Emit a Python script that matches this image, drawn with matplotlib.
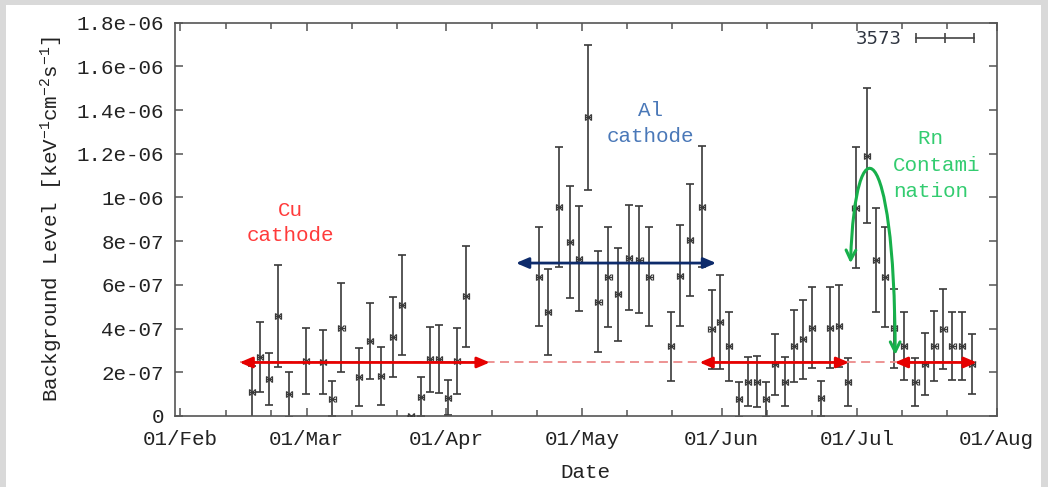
import datetime as dt
import numpy as np
import matplotlib
matplotlib.use('Agg')
import matplotlib.pyplot as plt
import matplotlib.dates as mdates
import matplotlib.ticker as mticker
from matplotlib.lines import Line2D
from matplotlib.patches import FancyArrowPatch, Rectangle
from matplotlib.path import Path
from matplotlib.legend_handler import HandlerLine2D

plt.rcParams['font.family'] = ['Liberation Mono', 'DejaVu Sans Mono']
plt.rcParams['mathtext.fontset'] = 'custom'
plt.rcParams['mathtext.rm'] = 'Liberation Mono'
plt.rcParams['mathtext.default'] = 'regular'

start = dt.datetime(2013, 2, 1)

# run day (days after 01/Feb), background level and its error, in 1e-7 keV-1 cm-2 s-1
day = [15.8, 17.6, 19.6, 21.7, 24.1, 27.8, 31.6, 33.7, 35.7, 39.6, 42.0,
       44.5, 47.1, 49.2, 51.1, 53.3, 55.3, 57.3, 59.3, 61.4, 63.3,
       79.5, 81.5, 83.9, 86.4, 88.4, 90.4, 92.7, 94.9, 97.0, 99.5,
       101.8, 104.0, 108.8, 110.8, 113.0, 115.7, 117.8, 119.7, 121.7,
       123.9, 125.8, 127.8, 129.9, 131.9, 134.0, 136.0, 138.0, 140.0,
       142.0, 144.0, 146.0, 148.1,
       149.7, 152.2, 154.2, 156.2, 158.2, 160.4, 163.0, 165.1, 167.2,
       169.2, 171.2, 173.3, 175.5]
level = [1.11, 2.72, 1.68, 4.58, 0.99, 2.52, 2.47, 0.79, 4.05, 1.80, 3.44,
         1.83, 3.62, 5.07, 0.0, 0.89, 2.60, 2.62, 0.84, 2.52, 5.47,
         6.37, 4.76, 9.57, 7.98, 7.19, 13.67, 5.24, 6.37, 5.57, 7.25,
         7.16, 6.38, 3.19, 6.41, 8.06, 9.57, 3.97, 4.29, 3.19,
         0.76, 1.57, 1.57, 0.76, 2.37, 1.57, 3.21, 3.51, 4.05,
         0.81, 4.05, 4.12, 1.56,
         9.54, 11.91, 7.16, 6.37, 4.02, 3.21, 1.57, 2.40, 3.21,
         3.97, 3.21, 3.21, 2.37]
err = [1.18, 1.60, 1.19, 2.34, 1.04, 1.50, 1.47, 0.81, 2.05, 1.33, 1.75,
       1.34, 1.82, 2.30, 0.0, 0.91, 1.49, 1.55, 0.81, 1.50, 2.29,
       2.26, 1.99, 2.75, 2.56, 2.40, 3.32, 2.32, 2.29, 2.13, 2.42,
       2.43, 2.28, 1.57, 2.31, 2.57, 2.77, 1.80, 2.16, 1.57,
       0.81, 1.13, 1.18, 0.81, 1.40, 1.13, 1.65, 1.80, 1.86,
       0.79, 1.86, 1.88, 1.11,
       2.75, 3.10, 2.38, 2.30, 1.81, 1.57, 1.10, 1.42, 1.60,
       1.82, 1.57, 1.57, 1.37]
bin_half = 0.7  # half width of a run bin, days

# mean levels (1e-7) and the periods they hold for (days after 01/Feb)
cu_level = 2.45
cu_periods = [(13.1, 68.6), (115.1, 148.3), (158.4, 176.6)]
al_level = 7.0
al_period = (74.4, 118.8)

t0 = mdates.date2num(start)
x = t0 + np.array(day)
y = np.array(level) * 1e-7
ye = np.array(err) * 1e-7

fig = plt.figure(figsize=(10.48, 4.87), dpi=100, facecolor='#d9d9d9')
fig.patches.append(Rectangle((6 / 1048, 0), 1035 / 1048, 482 / 487,
                             transform=fig.transFigure, facecolor='white',
                             edgecolor='none', zorder=-10))
ax = fig.add_axes([0.167, 0.1458, 0.784, 0.8076])

ax.errorbar(x, y, yerr=ye, fmt='none', ecolor='#3a3a3a', elinewidth=1.2,
            capsize=3, capthick=1.2, zorder=2)
ax.errorbar(x, y, xerr=bin_half, fmt='x', color='#3a3a3a', ms=4, mew=0.9,
            elinewidth=0.9, capsize=2.2, capthick=0.9, zorder=3)

# Cu reference level: dashed across the whole run, arrows over the Cu periods
ax.plot([t0 + cu_periods[0][0], t0 + cu_periods[-1][1]], [cu_level * 1e-7] * 2,
        ls=(0, (5, 3)), color='#ec8a8a', lw=1.3, zorder=4)
for a, b in cu_periods:
    ax.add_patch(FancyArrowPatch((t0 + a, cu_level * 1e-7), (t0 + b, cu_level * 1e-7),
                                 arrowstyle='<|-|>,head_length=0.75,head_width=0.32',
                                 mutation_scale=10, color='#e60000', lw=2,
                                 shrinkA=0, shrinkB=0, zorder=5))
ax.add_patch(FancyArrowPatch((t0 + al_period[0], al_level * 1e-7),
                             (t0 + al_period[1], al_level * 1e-7),
                             arrowstyle='<|-|>,head_length=0.75,head_width=0.32',
                             mutation_scale=10, color='#0d2b6b', lw=2,
                             shrinkA=0, shrinkB=0, zorder=5))

# Rn bump
rn_curve = Path([(t0 + 148.6, 6.99e-7), (t0 + 149.6, 13.6e-7),
                 (t0 + 158.4, 12.9e-7), (t0 + 158.5, 2.79e-7)],
                [Path.MOVETO, Path.CURVE4, Path.CURVE4, Path.CURVE4])
ax.add_patch(FancyArrowPatch(path=rn_curve, arrowstyle='<->,head_length=0.7,head_width=0.35',
                             mutation_scale=10, color='#17b04b', lw=2.2,
                             transform=ax.transData, zorder=5))

ax.text(0.141, 0.49, 'Cu\ncathode', transform=ax.transAxes, ha='center',
        va='center', color='#ff3b3b', fontsize=15, linespacing=1.42)
ax.text(0.579, 0.743, 'Al\ncathode', transform=ax.transAxes, ha='center',
        va='center', color='#4a78b8', fontsize=15, linespacing=1.45)
ax.text(0.874, 0.637, '  Rn\nContami\nnation', transform=ax.transAxes, ha='left',
        va='center', color='#33cc70', fontsize=15, linespacing=1.5)

handle = Line2D([], [], color='#444444', lw=1.2, marker='|', ms=7, mew=1.2)
ax.legend([handle], ['3573'], loc='center right', bbox_to_anchor=(0.972, 0.9585),
          frameon=False, markerfirst=False, handlelength=3.2, handletextpad=0.8,
          borderpad=0, borderaxespad=0,
          handler_map={Line2D: HandlerLine2D(marker_pad=0, numpoints=3)},
          prop={'family': 'DejaVu Sans', 'size': 13}, labelcolor='#2e3440')

ax.set_xlim(t0 - 1.2, mdates.date2num(dt.datetime(2013, 8, 1)))
ax.set_ylim(0, 1.8e-6)
ax.xaxis.set_major_locator(mdates.MonthLocator(bymonthday=1))
ax.xaxis.set_minor_locator(mdates.DayLocator(bymonthday=[11, 21]))
ax.xaxis.set_major_formatter(mdates.DateFormatter('%d/%b'))
ax.yaxis.set_major_locator(mticker.MultipleLocator(2e-7))
ax.yaxis.set_major_formatter(mticker.FuncFormatter(lambda v, p: '%g' % v))

ax.tick_params(which='both', direction='in', top=True, right=True,
               color='#555555', width=1.1, labelsize=15, labelcolor='#222222')
ax.tick_params(which='major', length=6)
ax.tick_params(which='minor', length=4)
ax.tick_params(axis='x', pad=10)
ax.tick_params(axis='y', pad=8)
for s in ax.spines.values():
    s.set_color('#555555')
    s.set_linewidth(1.2)

ax.set_xlabel('Date', fontsize=15, color='#222222', labelpad=10)
ax.set_ylabel(r'Background Level [keV$^{-1}$cm$^{-2}$s$^{-1}$]', fontsize=15,
              color='#222222', labelpad=8)

fig.savefig('out.png', dpi=100, facecolor=fig.get_facecolor())
